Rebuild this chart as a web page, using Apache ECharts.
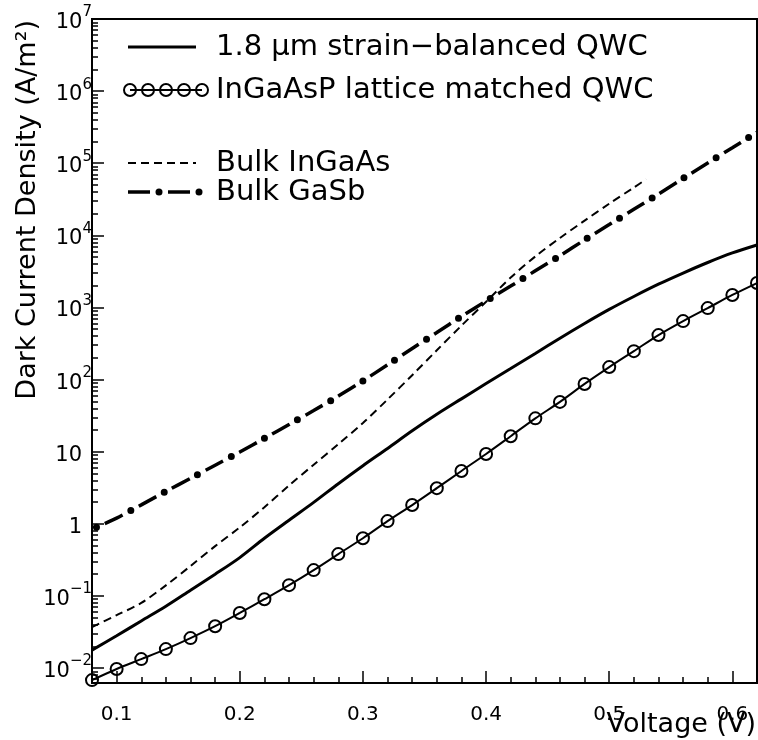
<!DOCTYPE html>
<html>
<head>
<meta charset="utf-8">
<script src="https://cdn.jsdelivr.net/npm/echarts@6.0.0/dist/echarts.min.js"></script>
<style>
  html, body { margin: 0; padding: 0; background: #fff; }
  #chart { width: 758px; height: 740px; }
</style>
</head>
<body>
<div id="chart"></div>
<script>
// values (dark current density in A/m^2)
const voltage = [0.08, 0.10, 0.12, 0.14, 0.16, 0.18, 0.20, 0.22, 0.24, 0.26, 0.28, 0.30, 0.32, 0.34,
                 0.36, 0.38, 0.40, 0.42, 0.44, 0.46, 0.48, 0.50, 0.52, 0.54, 0.56, 0.58, 0.60, 0.62];
const strainBalanced = [0.0177, 0.028, 0.045, 0.072, 0.12, 0.20, 0.34, 0.63, 1.12, 1.98, 3.6, 6.4, 11.1, 19.5,
                        33, 54, 88, 142, 230, 375, 600, 940, 1420, 2100, 3000, 4200, 5700, 7350];
const latticeMatched = [0.0068, 0.0097, 0.0133, 0.0183, 0.026, 0.038, 0.058, 0.090, 0.141, 0.228, 0.38, 0.63, 1.09, 1.82,
                        3.12, 5.4, 9.3, 16.4, 29, 49, 87, 149, 248, 414, 647, 980, 1490, 2180];
const bulkGaSb = [0.84, 1.20, 1.83, 2.81, 4.27, 6.5, 9.9, 15.3, 23.8, 37.2, 59, 96, 160, 270,
                  450, 750, 1230, 1980, 3220, 5220, 8630, 14100, 23000, 37400, 61600, 100700, 164000, 268000];
const inGaAsVoltage = [0.08, 0.10, 0.12, 0.14, 0.16, 0.18, 0.20, 0.22, 0.24, 0.26, 0.28, 0.30,
                       0.32, 0.34, 0.36, 0.38, 0.40, 0.42, 0.44, 0.46, 0.48, 0.50, 0.52, 0.53];
const bulkInGaAs = [0.037, 0.054, 0.080, 0.140, 0.26, 0.49, 0.89, 1.7, 3.4, 6.6, 12.7, 25,
                    53, 115, 255, 560, 1200, 2600, 5100, 9200, 16000, 27500, 46000, 60000];

// axis ticks
const xMajorTicks = [0.1, 0.2, 0.3, 0.4, 0.5, 0.6];
const xMinorTicks = [0.12, 0.14, 0.16, 0.18, 0.22, 0.24, 0.26, 0.28, 0.32, 0.34, 0.36, 0.38,
                     0.42, 0.44, 0.46, 0.48, 0.52, 0.54, 0.56, 0.58];
const yMajorTicks = [1e-2, 1e-1, 1, 10, 1e2, 1e3, 1e4, 1e5, 1e6, 1e7];
const yMinorTicks = [
    7e-3, 8e-3, 9e-3,
    2e-2, 3e-2, 4e-2, 5e-2, 6e-2, 7e-2, 8e-2, 9e-2,
    0.2, 0.3, 0.4, 0.5, 0.6, 0.7, 0.8, 0.9,
    2, 3, 4, 5, 6, 7, 8, 9,
    20, 30, 40, 50, 60, 70, 80, 90,
    200, 300, 400, 500, 600, 700, 800, 900,
    2e3, 3e3, 4e3, 5e3, 6e3, 7e3, 8e3, 9e3,
    2e4, 3e4, 4e4, 5e4, 6e4, 7e4, 8e4, 9e4,
    2e5, 3e5, 4e5, 5e5, 6e5, 7e5, 8e5, 9e5,
    2e6, 3e6, 4e6, 5e6, 6e6, 7e6, 8e6, 9e6
];

const FONT = 'DejaVu Sans';
const pair = (xs, ys) => ys.map((y, i) => [xs[i], y]);

const yLabel = (value) => {
    const e = Math.round(Math.log10(value));
    if (e === 0) return '{b|1}{p|}';
    if (e === 1) return '{b|10}{p|}';
    return '{b|10}{s|' + (e < 0 ? '\u2212' + (-e) : e) + '}';
};

const chartDom = document.getElementById('chart');
const myChart = echarts.init(chartDom, null, { renderer: 'canvas' });

const tickStyle = { color: '#000', width: 1.5 };

// legend drawn by hand (ROOT style, no box)
const legendX = 128, textX = 216;
const rows = [47, 90, 163, 192];
const legendText = (y, text) => ({
    type: 'text', x: textX, y: y,
    style: { text: text, font: '29px "' + FONT + '"', fill: '#000', textVerticalAlign: 'middle' }
});
const circleMarks = [130, 148, 166, 184, 202].map(cx => ({
    type: 'circle', shape: { cx: cx, cy: rows[1], r: 6 },
    style: { fill: 'none', stroke: '#000', lineWidth: 2 }
}));

const option = {
    animation: false,
    backgroundColor: '#fff',
    grid: {
        left: 92, right: 1, top: 19, bottom: 57,
        show: true, borderColor: '#000', borderWidth: 2
    },
    xAxis: [
        {
            type: 'value', min: 0.08, max: 0.62, position: 'bottom',
            axisLine: { lineStyle: { color: '#000', width: 2 } },
            axisTick: { inside: true, length: 12, customValues: xMajorTicks, lineStyle: tickStyle },
            axisLabel: {
                customValues: xMajorTicks,
                formatter: (v) => v.toFixed(1),
                color: '#000', fontFamily: FONT, fontSize: 20, margin: 22
            },
            splitLine: { show: false }
        },
        {
            type: 'value', min: 0.08, max: 0.62, position: 'bottom',
            axisLine: { show: false },
            axisTick: { inside: true, length: 6, customValues: xMinorTicks, lineStyle: tickStyle },
            axisLabel: { show: false },
            splitLine: { show: false }
        }
    ],
    yAxis: [
        {
            type: 'log', logBase: 10, min: 0.0062, max: 1e7, position: 'left',
            axisLine: { lineStyle: { color: '#000', width: 2 } },
            axisTick: { inside: true, length: 12, customValues: yMajorTicks, lineStyle: tickStyle },
            axisLabel: {
                customValues: yMajorTicks,
                formatter: yLabel,
                margin: 0,
                rich: {
                    b: { fontFamily: FONT, fontSize: 21, color: '#000', lineHeight: 28, verticalAlign: 'bottom' },
                    s: { fontFamily: FONT, fontSize: 15, color: '#000', lineHeight: 15, verticalAlign: 'top' },
                    p: { width: 10 }
                }
            },
            splitLine: { show: false }
        },
        {
            type: 'log', logBase: 10, min: 0.0062, max: 1e7, position: 'left',
            axisLine: { show: false },
            axisTick: { inside: true, length: 6, customValues: yMinorTicks, lineStyle: tickStyle },
            axisLabel: { show: false },
            splitLine: { show: false }
        }
    ],
    series: [
        {
            name: '1.8 \u03bcm strain\u2212balanced QWC',
            type: 'line', data: pair(voltage, strainBalanced),
            symbol: 'none', clip: true, smooth: 0.3,
            lineStyle: { color: '#000', width: 3 }
        },
        {
            name: 'InGaAsP lattice matched QWC',
            type: 'line', data: pair(voltage, latticeMatched),
            symbol: 'circle', symbolSize: 12, showSymbol: true, clip: true, smooth: 0.3,
            itemStyle: { color: 'rgba(0,0,0,0)', borderColor: '#000', borderWidth: 2 },
            lineStyle: { color: '#000', width: 2 }
        },
        {
            name: 'Bulk InGaAs',
            type: 'line', data: pair(inGaAsVoltage, bulkInGaAs),
            symbol: 'none', clip: true, smooth: 0.3,
            lineStyle: { color: '#000', width: 2, type: [8, 5] }
        },
        {
            name: 'Bulk GaSb',
            type: 'line', data: pair(voltage, bulkGaSb),
            symbol: 'none', clip: true, smooth: 0.3,
            lineStyle: { color: '#000', width: 3.5, type: [20, 18], dashOffset: 24 }
        },
        {
            // the dots of the dash-dot pattern
            name: 'Bulk GaSb dots',
            type: 'line', data: pair(voltage, bulkGaSb),
            symbol: 'none', clip: true, smooth: 0.3,
            lineStyle: { color: '#000', width: 7, type: [0, 38], dashOffset: 33, cap: 'round' }
        }
    ],
    graphic: [
        {
            type: 'text', x: 28, y: 20, rotation: Math.PI / 2,
            style: {
                text: 'Dark Current Density (A/m\u00b2)', font: '27px "' + FONT + '"',
                fill: '#000', textAlign: 'right', textVerticalAlign: 'middle'
            }
        },
        {
            type: 'text', x: 756, y: 725,
            style: {
                text: 'Voltage (V)', font: '27px "' + FONT + '"',
                fill: '#000', textAlign: 'right', textVerticalAlign: 'middle'
            }
        },
        { type: 'line', shape: { x1: legendX, y1: rows[0], x2: 196, y2: rows[0] }, style: { stroke: '#000', lineWidth: 3 } },
        legendText(rows[0], '1.8 \u03bcm strain\u2212balanced QWC'),
        { type: 'line', shape: { x1: 130, y1: rows[1], x2: 202, y2: rows[1] }, style: { stroke: '#000', lineWidth: 2 } },
        ...circleMarks,
        legendText(rows[1], 'InGaAsP lattice matched QWC'),
        { type: 'line', shape: { x1: legendX, y1: rows[2], x2: 196, y2: rows[2] }, style: { stroke: '#000', lineWidth: 2, lineDash: [8, 5] } },
        legendText(rows[2], 'Bulk InGaAs'),
        { type: 'line', shape: { x1: legendX, y1: rows[3], x2: 150, y2: rows[3] }, style: { stroke: '#000', lineWidth: 3.5 } },
        { type: 'circle', shape: { cx: 159, cy: rows[3], r: 3.5 }, style: { fill: '#000' } },
        { type: 'line', shape: { x1: 168, y1: rows[3], x2: 190, y2: rows[3] }, style: { stroke: '#000', lineWidth: 3.5 } },
        { type: 'circle', shape: { cx: 199, cy: rows[3], r: 3.5 }, style: { fill: '#000' } },
        legendText(rows[3], 'Bulk GaSb')
    ]
};

myChart.setOption(option);
</script>
</body>
</html>
